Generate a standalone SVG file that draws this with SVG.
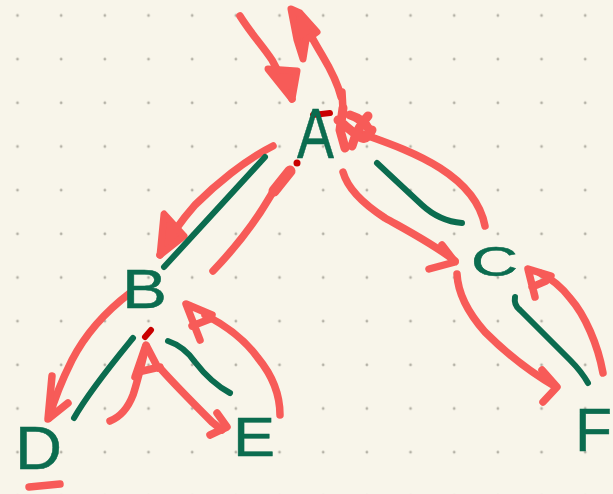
<svg xmlns="http://www.w3.org/2000/svg" width="613" height="494" viewBox="0 0 613 494">
<defs>
<pattern id="dots" x="-4.33" y="-6.33" width="43.67" height="43.67" patternUnits="userSpaceOnUse">
<circle cx="21.835" cy="21.835" r="1.4" fill="#b4b1a6"/>
</pattern>
<style>
.r{fill:none;stroke:#f75b58;stroke-width:7.5;stroke-linecap:round;stroke-linejoin:round}
.rh{fill:#f75b58;stroke:#f75b58;stroke-width:7;stroke-linecap:round;stroke-linejoin:round}
.g{fill:none;stroke:#0b6c4f;stroke-width:6;stroke-linecap:round;stroke-linejoin:round}
.dr{fill:none;stroke:#c90000;stroke-width:6;stroke-linecap:round}
.lbl{font-family:"Liberation Sans",Arial,sans-serif;fill:#0b6c4f;stroke:#0b6c4f;stroke-width:0.5}
</style>
</defs>
<rect width="613" height="494" fill="#f8f5ea"/>
<rect width="613" height="494" fill="url(#dots)"/>
<g id="connectors">
<path class="r" d="M240,16 C252,35 262,45 272,60 C280,75 287,88 292,99"/>
<path class="rh" d="M268,69 L292,99 L297,71 Z"/>
<path class="r" d="M341,97 C337,80 328,65 322,55 C316,45 312,38 308,30"/>
<path class="rh" d="M291,9 L300,13 L317,32 L306,40 L303,59 L297,40 Z"/>
<path class="r" d="M273,146 C245,160 215,185 195,205 C180,222 168,240 160,255"/>
<path class="rh" d="M164,214 L160,255 L184,236 Z"/>
<path class="g" d="M265,157 L164,267"/>
<path class="r" d="M213,271 C235,248 255,222 268,200 C275,188 282,178 290,170"/>
<path class="r" style="stroke-width:11" d="M274,191 L290,171"/>
<path class="r" d="M343,172 C348,190 365,205 385,218 C410,232 435,245 455,261"/>
<path class="r" d="M442,245 L455,262 L429,269"/>
<path class="g" d="M377,163 C392,177 408,192 422,205 C435,217 450,222 462,223"/>
<path class="r" d="M485,226 C480,200 462,182 440,168 C415,152 385,142 360,133"/>
<path class="r" d="M342,92 L343,110"/>
<path class="r" style="stroke-width:9" d="M343,108 L340,130 L345,148 M338,120 C345,125 355,135 362,138 C366,140 370,134 372,130 M350,115 C360,118 366,124 368,128 M352,146 C356,132 362,122 368,116"/>
<path class="r" d="M457,274 C458,295 470,315 485,332 C505,352 530,372 556,387"/>
<path class="r" d="M542,370 L557,387 L543,402"/>
<path class="g" d="M515,297 C514,303 516,307 520,310 C535,325 555,345 570,360 C578,368 584,376 588,383"/>
<path class="r" d="M603,373 C598,345 585,315 570,298 C560,285 550,278 540,273"/>
<path class="r" d="M535,297 L528,269 L551,276 M532,287 L546,281"/>
<path class="r" d="M130,293 C105,312 85,335 72,360 C62,380 54,400 49,418"/>
<path class="r" d="M52,376 L48,419 L68,403"/>
<path class="g" d="M133,338 C115,360 90,390 74,418"/>
<path class="r" d="M110,421 C120,417 128,408 133,395 C138,380 142,362 146,346"/>
<path class="r" d="M135,377 L146,345 L158,368 M138,372 L160,367"/>
<path class="r" d="M160,368 C175,385 195,405 212,422 L222,430"/>
<path class="r" d="M217,413 L227,427 L210,435"/>
<path class="g" d="M168,341 C180,345 188,352 195,362 C205,375 215,385 230,393"/>
<path class="r" d="M280,415 C280,395 272,375 258,358 C245,340 225,325 205,315"/>
<path class="r" d="M200,340 L186,304 L212,315 M192,326 L210,319"/>
<path class="r" d="M29,487 L60,484"/>
<path class="dr" d="M313,115 L330,113"/>
<circle cx="297" cy="163" r="3.5" fill="#c90000"/>
<path class="dr" d="M145,337 L151,330"/>
</g>
<g id="node-A"><text class="lbl" x="297" y="158" font-size="70" textLength="37" lengthAdjust="spacingAndGlyphs">A</text></g>
<g id="node-B"><text class="lbl" x="122" y="308" font-size="56" textLength="45" lengthAdjust="spacingAndGlyphs">B</text></g>
<g id="node-C"><text class="lbl" x="471" y="276" font-size="42" textLength="47" lengthAdjust="spacingAndGlyphs">C</text></g>
<g id="node-D"><text class="lbl" x="15" y="469" font-size="62" textLength="47" lengthAdjust="spacingAndGlyphs">D</text></g>
<g id="node-E"><text class="lbl" x="233" y="456" font-size="56" textLength="42" lengthAdjust="spacingAndGlyphs">E</text></g>
<g id="node-F"><text class="lbl" x="575" y="451" font-size="62" textLength="37" lengthAdjust="spacingAndGlyphs">F</text></g>
</svg>
